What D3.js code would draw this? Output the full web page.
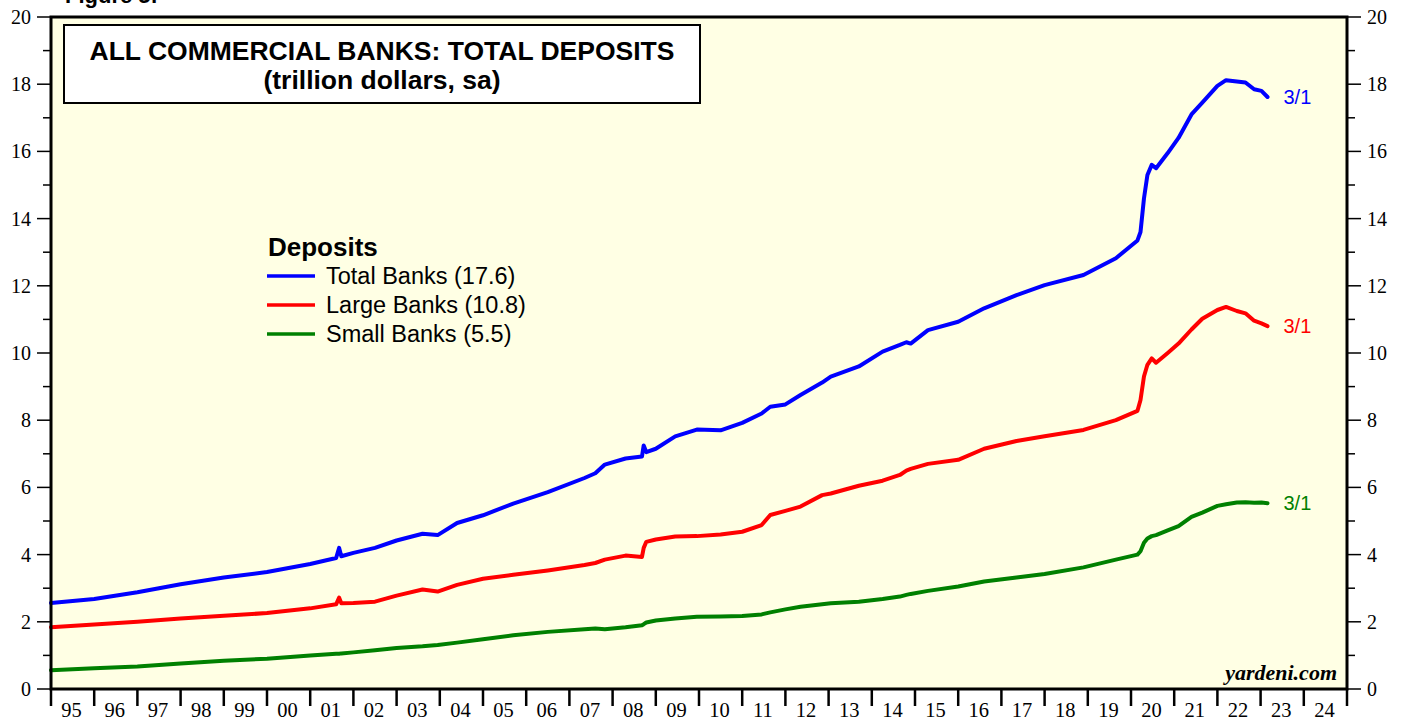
<html>
<head>
  <title>All commercial banks: total deposits</title>
  <script src="https://d3js.org/d3.v7.min.js"></script>
  <style>
  body { margin: 0; background: #fff; }
  svg { display: block; }
  </style>
</head>
<body>
<script>

// decimal years shared by the three series
var dates = [1995.0, 1996.0, 1997.0, 1998.0, 1999.0, 2000.0, 2001.0, 2001.6, 2001.67, 2001.72,
  2002.0, 2002.5, 2003.0, 2003.6, 2003.95, 2004.4, 2005.0, 2005.7, 2006.5, 2007.35,
  2007.6, 2007.82, 2008.3, 2008.68, 2008.72, 2008.78, 2009.0, 2009.45, 2009.95, 2010.5,
  2011.0, 2011.45, 2011.65, 2012.0, 2012.35, 2012.85, 2013.05, 2013.7, 2014.25, 2014.65,
  2014.8, 2014.9, 2015.3, 2016.0, 2016.6, 2017.35, 2018.0, 2018.9, 2019.65, 2020.15,
  2020.22, 2020.3, 2020.38, 2020.48, 2020.58, 2020.85, 2021.1, 2021.4, 2021.65, 2022.0,
  2022.2, 2022.45, 2022.65, 2022.85, 2023.02, 2023.16];

var totalBanks = [2.56, 2.68, 2.88, 3.12, 3.32, 3.48, 3.72, 3.9, 4.2, 3.95,
  4.05, 4.2, 4.42, 4.62, 4.58, 4.94, 5.17, 5.52, 5.86, 6.28,
  6.42, 6.68, 6.86, 6.92, 7.25, 7.05, 7.15, 7.52, 7.72, 7.7,
  7.92, 8.2, 8.4, 8.47, 8.75, 9.12, 9.3, 9.6, 10.04, 10.24,
  10.32, 10.28, 10.68, 10.93, 11.33, 11.72, 12.02, 12.32, 12.82, 13.35,
  13.6, 14.6, 15.3, 15.6, 15.5, 15.95, 16.4, 17.1, 17.45, 17.95,
  18.12, 18.08, 18.05, 17.85, 17.8, 17.62];

var largeBanks = [1.84, 1.92, 2.0, 2.1, 2.18, 2.26, 2.4, 2.52, 2.72, 2.55,
  2.56, 2.6, 2.78, 2.96, 2.9, 3.1, 3.28, 3.4, 3.53, 3.69,
  3.75, 3.85, 3.97, 3.93, 4.2, 4.38, 4.45, 4.54, 4.55, 4.6,
  4.68, 4.88, 5.18, 5.3, 5.43, 5.77, 5.82, 6.05, 6.2, 6.37,
  6.5, 6.55, 6.7, 6.82, 7.15, 7.38, 7.52, 7.71, 8.0, 8.28,
  8.6, 9.3, 9.65, 9.84, 9.71, 10.0, 10.28, 10.7, 11.02, 11.28,
  11.37, 11.25, 11.18, 10.96, 10.88, 10.8];

var smallBanks = [0.56, 0.62, 0.67, 0.76, 0.84, 0.9, 1.0, 1.05, 1.05, 1.06,
  1.09, 1.15, 1.22, 1.27, 1.31, 1.38, 1.48, 1.6, 1.7, 1.78,
  1.8, 1.78, 1.84, 1.9, 1.93, 1.98, 2.04, 2.1, 2.15, 2.16,
  2.17, 2.22, 2.28, 2.37, 2.45, 2.52, 2.55, 2.6, 2.68, 2.75,
  2.8, 2.83, 2.92, 3.05, 3.2, 3.32, 3.42, 3.62, 3.85, 4.0,
  4.1, 4.35, 4.48, 4.55, 4.58, 4.72, 4.85, 5.12, 5.25, 5.45,
  5.5, 5.55, 5.56, 5.54, 5.55, 5.53];

var seriesNames = ['Total Banks (17.6)', 'Large Banks (10.8)', 'Small Banks (5.5)'];
var seriesColors = ['#0000ff', '#ff0000', '#008000'];
var yearLabels = ['95','96','97','98','99','00','01','02','03','04','05','06','07','08','09',
  '10','11','12','13','14','15','16','17','18','19','20','21','22','23','24'];
var yTicks = [0, 2, 4, 6, 8, 10, 12, 14, 16, 18, 20];
var endLabel = '3/1';

var width = 1407,
    height = 721;
// plot area edges (note: "top" is reserved on window, so use pl/pr/pt/pb)
var pl = 51, pr = 1347, pt = 17, pb = 689;

var svg = d3.select('body')
  .append('svg')
  .attr('width', width)
  .attr('height', height);

var x = d3.scaleLinear().domain([1995, 2025]).range([pl, pr]);
var y = d3.scaleLinear().domain([0, 20]).range([pb, pt]);

// "Figure" caption, mostly cut off at the top like the original
svg.append('text')
  .attr('x', 65).attr('y', 3)
  .attr('font-family', 'Liberation Sans, Arial, sans-serif')
  .attr('font-weight', 'bold')
  .attr('font-size', 22)
  .text('Figure 5:');

// plot background
svg.append('rect')
  .attr('x', pl).attr('y', pt)
  .attr('width', pr - pl).attr('height', pb - pt)
  .attr('fill', '#ffffe4');

// y axes, left and right
var minor = d3.range(1, 20, 2);
function yAxis(g, isLeft) {
  var dir = isLeft ? -1 : 1;
  var xa = isLeft ? pl : pr;
  g.selectAll('line.major').data(yTicks).enter().append('line')
    .attr('x1', xa).attr('x2', xa + dir * 14)
    .attr('y1', function(d) { return y(d); }).attr('y2', function(d) { return y(d); })
    .attr('stroke', '#000').attr('stroke-width', 1.5);
  g.selectAll('line.minor').data(minor).enter().append('line')
    .attr('x1', xa).attr('x2', xa + dir * 8)
    .attr('y1', function(d) { return y(d); }).attr('y2', function(d) { return y(d); })
    .attr('stroke', '#000').attr('stroke-width', 1.5);
  g.selectAll('text').data(yTicks).enter().append('text')
    .attr('x', xa + dir * 20)
    .attr('y', function(d) { return y(d); })
    .attr('dy', '0.35em')
    .attr('text-anchor', isLeft ? 'end' : 'start')
    .attr('font-family', 'Liberation Serif, Times New Roman, serif')
    .attr('font-size', 20)
    .text(function(d) { return d; });
}
svg.append('g').call(yAxis, true);
svg.append('g').call(yAxis, false);

// x axis: year ticks below, labels centered in each year
var years = d3.range(1995, 2026);
var xg = svg.append('g');
xg.selectAll('line').data(years).enter().append('line')
  .attr('x1', function(d) { return x(d); }).attr('x2', function(d) { return x(d); })
  .attr('y1', pb).attr('y2', pb + 17)
  .attr('stroke', '#000').attr('stroke-width', 2.5);
xg.selectAll('text').data(yearLabels).enter().append('text')
  .attr('x', function(d, i) { return x(1995 + i + 0.5) - 1; })
  .attr('y', 717)
  .attr('text-anchor', 'middle')
  .attr('font-family', 'Liberation Serif, Times New Roman, serif')
  .attr('font-size', 20.5)
  .text(function(d) { return d; });

// series lines
var allSeries = [totalBanks, largeBanks, smallBanks];
var line = d3.line()
  .x(function(d, i) { return x(dates[i]); })
  .y(function(d) { return y(d); });

svg.append('g').selectAll('path')
  .data(allSeries)
  .enter()
  .append('path')
  .attr('d', line)
  .attr('fill', 'none')
  .attr('stroke', function(d, i) { return seriesColors[i]; })
  .attr('stroke-width', 4)
  .attr('stroke-linejoin', 'round')
  .attr('stroke-linecap', 'round');

// end labels
svg.append('g').selectAll('text')
  .data(allSeries)
  .enter()
  .append('text')
  .attr('x', x(dates[dates.length - 1]) + 16)
  .attr('y', function(d) { return y(d[d.length - 1]); })
  .attr('dy', '0.35em')
  .attr('fill', function(d, i) { return seriesColors[i]; })
  .attr('font-family', 'Liberation Sans, Arial, sans-serif')
  .attr('font-size', 20)
  .text(endLabel);

// frame
svg.append('rect')
  .attr('x', pl).attr('y', pt)
  .attr('width', pr - pl).attr('height', pb - pt)
  .attr('fill', 'none')
  .attr('stroke', '#000')
  .attr('stroke-width', 3);

// title box
svg.append('rect')
  .attr('x', 64).attr('y', 25)
  .attr('width', 636).attr('height', 78)
  .attr('fill', '#fff')
  .attr('stroke', '#000')
  .attr('stroke-width', 2);
var title = svg.append('text')
  .attr('text-anchor', 'middle')
  .attr('font-family', 'Liberation Sans, Arial, sans-serif')
  .attr('font-weight', 'bold')
  .attr('font-size', 26.5);
title.append('tspan').attr('x', 382).attr('y', 60)
  .text('ALL COMMERCIAL BANKS: TOTAL DEPOSITS');
title.append('tspan').attr('x', 382).attr('y', 89)
  .text('(trillion dollars, sa)');

// legend
var lg = svg.append('g');
lg.append('text')
  .attr('x', 268).attr('y', 256)
  .attr('font-family', 'Liberation Sans, Arial, sans-serif')
  .attr('font-weight', 'bold')
  .attr('font-size', 26)
  .text('Deposits');
lg.selectAll('line').data(seriesNames).enter().append('line')
  .attr('x1', 267).attr('x2', 315)
  .attr('y1', function(d, i) { return 276 + i * 29; })
  .attr('y2', function(d, i) { return 276 + i * 29; })
  .attr('stroke', function(d, i) { return seriesColors[i]; })
  .attr('stroke-width', 3.5);
lg.selectAll('text.item').data(seriesNames).enter().append('text')
  .attr('x', 326)
  .attr('y', function(d, i) { return 276 + i * 29; })
  .attr('dy', '0.35em')
  .attr('font-family', 'Liberation Sans, Arial, sans-serif')
  .attr('font-size', 23.5)
  .text(function(d) { return d; });

// source
svg.append('text')
  .attr('x', 1337).attr('y', 680)
  .attr('text-anchor', 'end')
  .attr('font-family', 'Liberation Serif, Times New Roman, serif')
  .attr('font-weight', 'bold')
  .attr('font-style', 'italic')
  .attr('font-size', 22)
  .text('yardeni.com');

</script>
</body>
</html>
